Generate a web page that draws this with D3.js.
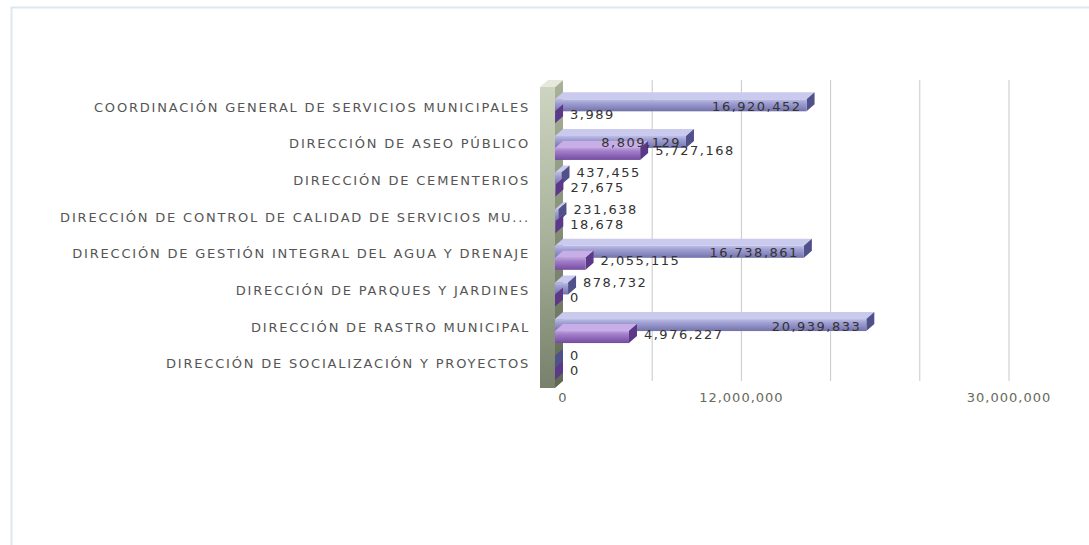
<!DOCTYPE html>
<html>
<head>
<meta charset="utf-8">
<script src="https://cdn.jsdelivr.net/npm/d3@7"></script>
<style>
  body { margin: 0; background: #fff; }
  text { font-family: "DejaVu Sans", Verdana, sans-serif; }
</style>
</head>
<body>
<script>
var categories = [
  "COORDINACIÓN GENERAL DE SERVICIOS MUNICIPALES",
  "DIRECCIÓN DE ASEO PÚBLICO",
  "DIRECCIÓN DE CEMENTERIOS",
  "DIRECCIÓN DE CONTROL DE CALIDAD DE SERVICIOS MU...",
  "DIRECCIÓN DE GESTIÓN INTEGRAL DEL AGUA Y DRENAJE",
  "DIRECCIÓN DE PARQUES Y JARDINES",
  "DIRECCIÓN DE RASTRO MUNICIPAL",
  "DIRECCIÓN DE SOCIALIZACIÓN Y PROYECTOS"
];
var series1 = [16920452, 8809129, 437455, 231638, 16738861, 878732, 20939833, 0];
var series2 = [3989, 5727168, 27675, 18678, 2055115, 0, 4976227, 0];
var gridTicks = [6000000, 12000000, 18000000, 24000000, 30000000];
var tickLabels = [0, 12000000, 30000000];

const W = 1089, H = 545;
const depthX = 8, depthY = 7;
const front = {left: 555, top: 87, bottom: 388};

var svg = d3.select("body").append("svg")
  .attr("width", W)
  .attr("height", H);

// outer frame
svg.append("rect")
  .attr("x", 11.5).attr("y", 7.5)
  .attr("width", 1200).attr("height", 700)
  .attr("fill", "#fff")
  .attr("stroke", "#dfe6ee")
  .attr("stroke-width", 2);

var x = d3.scaleLinear()
  .domain([0, 30000000])
  .range([front.left, front.left + 446]);

var y = d3.scaleBand()
  .domain(categories)
  .range([89, 382])
  .paddingInner(0.4)
  .paddingOuter(0.2);

var fmt = d3.format(",");

var defs = svg.append("defs");
function vgrad(id, stops) {
  var g = defs.append("linearGradient").attr("id", id)
    .attr("x1", 0).attr("y1", 0).attr("x2", 0).attr("y2", 1);
  stops.forEach(function(s) {
    g.append("stop").attr("offset", s[0]).attr("stop-color", s[1]);
  });
}
vgrad("g1", [[0, "#bdbde6"], [0.3, "#a0a0d4"], [0.65, "#8a8ac0"], [1, "#7272aa"]]);
vgrad("g2", [[0, "#bc9ede"], [0.3, "#a07cc8"], [0.65, "#8a64b4"], [1, "#744c9e"]]);
vgrad("wallFront", [[0, "#cdd4c0"], [0.5, "#a8b29a"], [1, "#76806a"]]);
vgrad("wallSide", [[0, "#a9b39b"], [1, "#5e6852"]]);

var colors = [
  {front: "url(#g1)", top: "#cacaee", side: "#50508a"},
  {front: "url(#g2)", top: "#c8aee6", side: "#5c3888"}
];

// gridlines on back plane
svg.append("g")
  .attr("class", "grid")
  .selectAll("line")
  .data(gridTicks)
  .enter()
  .append("line")
  .attr("x1", function(d) { return x(d) + depthX; })
  .attr("x2", function(d) { return x(d) + depthX; })
  .attr("y1", front.top - depthY)
  .attr("y2", front.bottom - depthY)
  .attr("stroke", "#c8c8c8")
  .attr("stroke-width", 1);

// axis labels
svg.append("g")
  .selectAll("text")
  .data(tickLabels)
  .enter()
  .append("text")
  .attr("x", function(d) { return x(d) + depthX; })
  .attr("y", 402)
  .attr("text-anchor", "middle")
  .attr("font-size", 13)
  .attr("letter-spacing", 1)
  .attr("fill", "#666a58")
  .text(function(d) { return fmt(d); });

// wall (3D y axis)
var wl = 540, wr = front.left;
svg.append("polygon")
  .attr("points", [[wr, front.top], [wr + depthX, front.top - depthY], [wr + depthX, front.bottom - depthY], [wr, front.bottom]].join(" "))
  .attr("fill", "url(#wallSide)");
svg.append("polygon")
  .attr("points", [[wl, front.top], [wl + depthX, front.top - depthY], [wr + depthX, front.top - depthY], [wr, front.top]].join(" "))
  .attr("fill", "#e4e9dc");
svg.append("rect")
  .attr("x", wl).attr("y", front.top)
  .attr("width", wr - wl).attr("height", front.bottom - front.top)
  .attr("fill", "url(#wallFront)");

// category labels
svg.append("g")
  .selectAll("text")
  .data(categories)
  .enter()
  .append("text")
  .attr("x", 530)
  .attr("y", function(d) { return y(d) + y.bandwidth() / 2; })
  .attr("dy", "0.35em")
  .attr("text-anchor", "end")
  .attr("font-size", 13)
  .attr("letter-spacing", 1.8)
  .attr("fill", "#555")
  .text(function(d) { return d; });

// bars
var barH = 12, shift = 4;
var rows = [];
categories.forEach(function(c, i) {
  rows.push({cat: c, s: 1, v: series2[i]});
  rows.push({cat: c, s: 0, v: series1[i]});
});
rows.reverse();

function midOf(c) { return y(c) + y.bandwidth() / 2; }

var bars = svg.append("g").attr("class", "bars");
rows.forEach(function(r) {
  var mid = midOf(r.cat) + shift;
  var y0 = r.s === 0 ? mid - barH : mid;
  var x0 = x(0), x1 = x(r.v);
  var col = colors[r.s];
  var g = bars.append("g");
  g.append("polygon")
    .attr("points", [[x0, y0], [x0 + depthX, y0 - depthY], [x1 + depthX, y0 - depthY], [x1, y0]].join(" "))
    .attr("fill", col.top);
  g.append("polygon")
    .attr("points", [[x1, y0], [x1 + depthX, y0 - depthY], [x1 + depthX, y0 + barH - depthY], [x1, y0 + barH]].join(" "))
    .attr("fill", col.side);
  g.append("rect")
    .attr("x", x0).attr("y", y0)
    .attr("width", x1 - x0).attr("height", barH)
    .attr("fill", col.front);
});

// value labels
var labels = svg.append("g").attr("class", "values");
rows.forEach(function(r) {
  var mid = midOf(r.cat);
  var x1 = x(r.v);
  var t = labels.append("text")
    .attr("dy", "0.35em")
    .attr("font-size", 13)
    .attr("letter-spacing", 1.5)
    .attr("fill", "#333")
    .text(fmt(r.v));
  var tw = t.node().getComputedTextLength();
  if (tw + 10 < x1 - x(0)) {
    // fits inside the bar
    var yc = r.s === 0 ? mid + shift - barH / 2 : mid + shift + barH / 2;
    t.attr("x", x1 - 5).attr("y", yc + 1).attr("text-anchor", "end");
  } else {
    t.attr("x", x1 + depthX + 7)
      .attr("y", r.s === 0 ? mid - 8 : mid + 7)
      .attr("text-anchor", "start");
  }
});
</script>
</body>
</html>
